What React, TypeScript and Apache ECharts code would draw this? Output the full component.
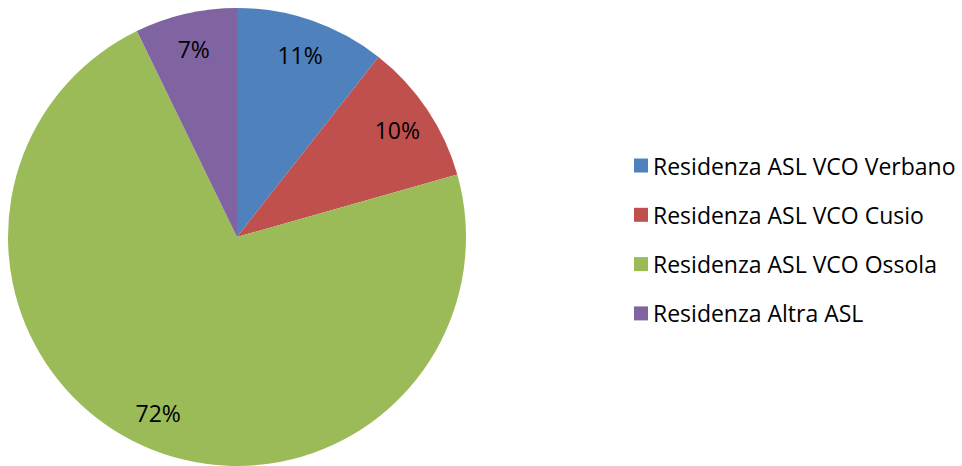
import React, { useEffect, useRef } from "react";
import * as echarts from "echarts";

const categories = [
  "Residenza ASL VCO Verbano",
  "Residenza ASL VCO Cusio",
  "Residenza ASL VCO Ossola",
  "Residenza Altra ASL",
];
const values = [10.6, 10.0, 72.2, 7.2];
const labels = ["11%", "10%", "72%", "7%"];
const colors = ["#4F81BD", "#C0504D", "#9BBB59", "#8064A2"];

const FONT = "'Open Sans', Lato, sans-serif";

export default function App() {
  const ref = useRef<HTMLDivElement>(null);
  useEffect(() => {
    document.body.style.margin = "0";
    const chart = echarts.init(ref.current!, undefined, { renderer: "svg" });
    const data = categories.map((name, i) => ({
      name,
      value: values[i],
      itemStyle: { color: colors[i] },
    }));
    chart.setOption({
      animation: false,
      backgroundColor: "#ffffff",
      legend: {
        orient: "vertical",
        left: 629,
        top: 149,
        icon: "rect",
        itemWidth: 14,
        itemHeight: 14,
        itemGap: 26.3,
        data: categories,
        textStyle: {
          fontFamily: FONT,
          fontSize: 23,
          lineHeight: 22,
          color: "#000000",
        },
      },
      series: [
        {
          type: "pie",
          center: [237, 237],
          radius: [0, 229],
          startAngle: 90,
          clockwise: true,
          silent: true,
          label: { show: false },
          labelLine: { show: false },
          itemStyle: { borderWidth: 0 },
          data,
        },
        {
          type: "pie",
          center: [237, 237],
          radius: [151, 229],
          startAngle: 90,
          clockwise: true,
          silent: true,
          legendHoverLink: false,
          itemStyle: { color: "transparent", borderWidth: 0 },
          label: {
            show: true,
            position: "inside",
            fontFamily: FONT,
            fontSize: 23,
            color: "#000000",
            formatter: (p: any) => labels[p.dataIndex],
          },
          labelLine: { show: false },
          data: categories.map((name, i) => ({ name, value: values[i] })),
        },
      ],
    });
    return () => chart.dispose();
  }, []);
  return <div ref={ref} style={{ width: 962, height: 466 }} />;
}
